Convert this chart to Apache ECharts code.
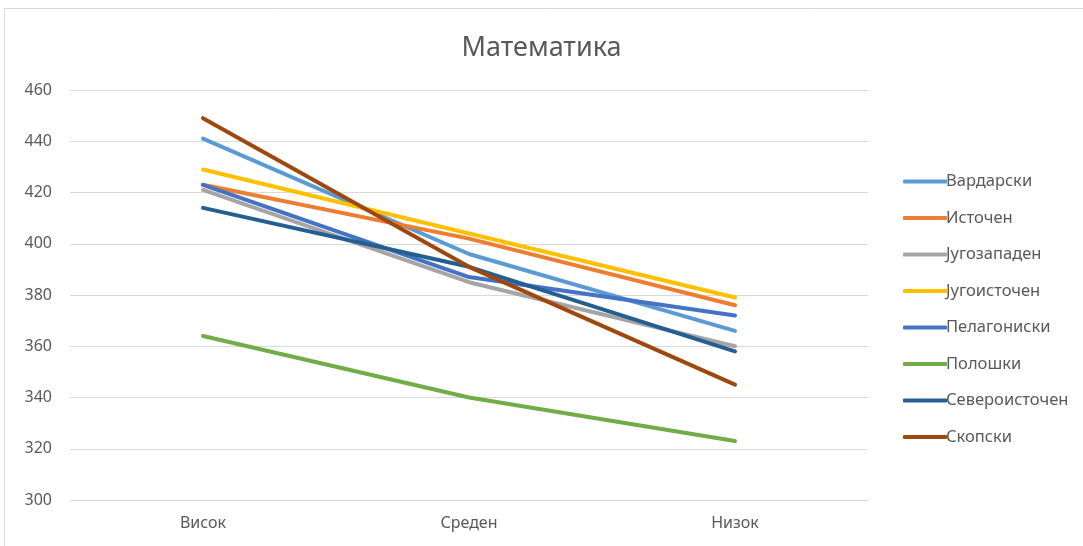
<!DOCTYPE html>
<html>
<head>
<meta charset="utf-8">
<script src="https://cdn.jsdelivr.net/npm/echarts@6/dist/echarts.min.js"></script>
<style>
html,body{margin:0;padding:0;background:#fff;}
#c{width:1083px;height:546px;}
</style>
</head>
<body>
<div id="c"></div>
<script>
const title = 'Математика';
const categories = ['Висок', 'Среден', 'Низок'];
const seriesNames = ['Вардарски', 'Источен', 'Југозападен', 'Југоисточен', 'Пелагониски', 'Полошки', 'Североисточен', 'Скопски'];
const vardarski = [441, 396, 366];
const istochen = [423, 402, 376];
const jugozapaden = [421, 385, 360];
const jugoistochen = [429, 404, 379];
const pelagoniski = [423, 387, 372];
const poloshki = [364, 340, 323];
const severoistochen = [414, 391, 358];
const skopski = [449, 391, 345];
const seriesValues = [vardarski, istochen, jugozapaden, jugoistochen, pelagoniski, poloshki, severoistochen, skopski];
const colors = ['#5B9BD5', '#ED7D31', '#A5A5A5', '#FFC000', '#4472C4', '#70AD47', '#255E91', '#9E480E'];
const yMin = 300, yMax = 460, yStep = 20;

const chart = echarts.init(document.getElementById('c'), null, {renderer: 'canvas'});
const font = '"Noto Sans", "DejaVu Sans", sans-serif';
chart.setOption({
  animation: false,
  backgroundColor: '#ffffff',
  color: colors,
  title: {
    text: title,
    left: 'center',
    top: 30,
    textStyle: {color: '#595959', fontSize: 27, fontWeight: 'normal', fontFamily: font}
  },
  graphic: [{
    type: 'rect',
    shape: {x: 4.5, y: 8.5, width: 1200, height: 700},
    style: {fill: 'none', stroke: '#d9d9d9', lineWidth: 1},
    silent: true
  }],
  legend: {
    orient: 'vertical',
    left: 898,
    top: 168,
    itemGap: 19.5,
    itemWidth: 44,
    itemHeight: 4,
    icon: 'roundRect',
    textStyle: {color: '#595959', fontSize: 16.5, fontFamily: font, padding: [0, 0, 0, -6]},
    data: seriesNames
  },
  grid: {left: 70, right: 215, top: 90, bottom: 46, containLabel: false},
  xAxis: {
    type: 'category',
    data: categories,
    boundaryGap: true,
    axisLine: {lineStyle: {color: '#d9d9d9', width: 1}},
    axisTick: {show: false},
    axisLabel: {color: '#595959', fontSize: 16, fontFamily: font, margin: 15}
  },
  yAxis: {
    type: 'value',
    min: yMin,
    max: yMax,
    interval: yStep,
    axisLine: {show: false},
    axisTick: {show: false},
    axisLabel: {color: '#595959', fontSize: 16, fontFamily: font, margin: 18},
    splitLine: {lineStyle: {color: '#d9d9d9', width: 1}}
  },
  series: seriesNames.map((n, i) => ({
    name: n,
    type: 'line',
    data: seriesValues[i],
    symbol: 'none',
    lineStyle: {width: 4, color: colors[i], cap: 'round', join: 'round'},
    itemStyle: {color: colors[i]},
    z: 2 + i
  }))
});
</script>
</body>
</html>
